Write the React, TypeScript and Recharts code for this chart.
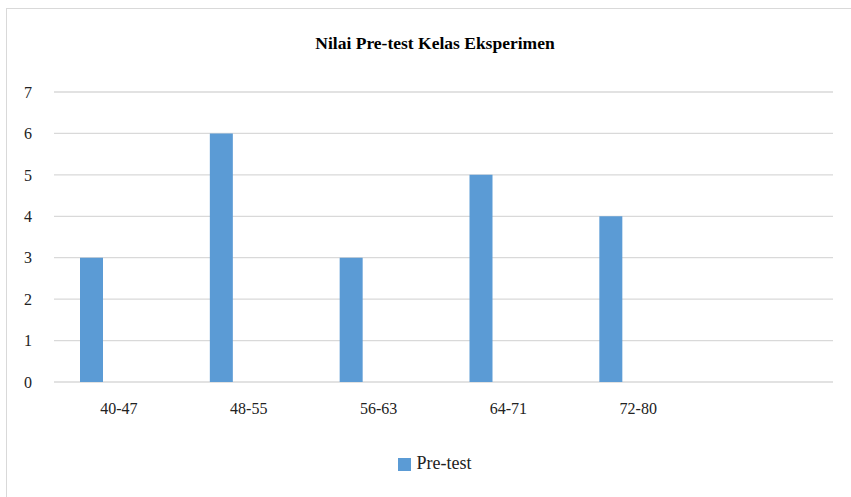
import React from "react";
import { BarChart, Bar, XAxis, YAxis, CartesianGrid, Legend } from "recharts";

// rentang nilai (kategori ke-6 kosong, seperti di grafik asli)
const categories = ["40-47", "48-55", "56-63", "64-71", "72-80", ""];
const preTest = [3, 6, 3, 5, 4, null];
// seri kosong, hanya untuk menggeser batang ke kiri seperti di Excel
const emptySeries = [null, null, null, null, null, null];
const yTicks = [0, 1, 2, 3, 4, 5, 6, 7];

const FONT = "'Liberation Serif', 'DejaVu Serif', serif";
const BLUE = "#5b9bd5";
const GRID = "#d9d9d9";

const chartData = categories.map((c, i) => ({
  range: c,
  pretest: preTest[i],
  kosong: emptySeries[i],
}));

export default function App() {
  return (
    <div
      style={{
        position: "absolute",
        left: 0,
        top: 0,
        width: 851,
        height: 497,
        background: "#fff",
        fontFamily: FONT,
      }}
    >
      <div
        style={{
          position: "absolute",
          left: 6,
          top: 8,
          right: 0,
          bottom: 0,
          borderLeft: `1px solid ${GRID}`,
          borderTop: `1px solid ${GRID}`,
        }}
      />
      <div
        style={{
          position: "absolute",
          left: 235,
          width: 400,
          top: 33,
          textAlign: "center",
          fontSize: 17.5,
          fontWeight: 700,
          color: "#000",
        }}
      >
        Nilai Pre-test Kelas Eksperimen
      </div>
      <BarChart
        width={851}
        height={497}
        data={chartData}
        margin={{ top: 92, right: 18, left: 0, bottom: 85 }}
        barGap={0}
        style={{ position: "absolute", left: 0, top: 0 }}
      >
        <CartesianGrid vertical={false} stroke={GRID} strokeWidth={1.3} />
        <XAxis
          dataKey="range"
          height={30}
          axisLine={false}
          tickLine={false}
          tickMargin={15}
          interval={0}
          tick={{ fontFamily: FONT, fontSize: 16, fill: "#222" }}
        />
        <YAxis
          width={54}
          domain={[0, 7]}
          ticks={yTicks}
          axisLine={false}
          tickLine={false}
          tickMargin={16}
          tick={{ fontFamily: FONT, fontSize: 16, fill: "#222" }}
        />
        <Legend
          verticalAlign="middle"
          align="center"
          iconType="square"
          iconSize={13}
          wrapperStyle={{
            position: "absolute",
            left: 23,
            width: 833,
            top: 453,
            fontFamily: FONT,
            fontSize: 18,
            color: "#222",
          }}
          formatter={(value) => (
            <span style={{ color: "#222", marginLeft: 2 }}>{value}</span>
          )}
        />
        <Bar
          dataKey="pretest"
          name="Pre-test"
          fill={BLUE}
          barSize={23}
          isAnimationActive={false}
        />
        <Bar
          dataKey="kosong"
          name="kosong"
          fill={BLUE}
          barSize={55}
          legendType="none"
          isAnimationActive={false}
        />
      </BarChart>
    </div>
  );
}
